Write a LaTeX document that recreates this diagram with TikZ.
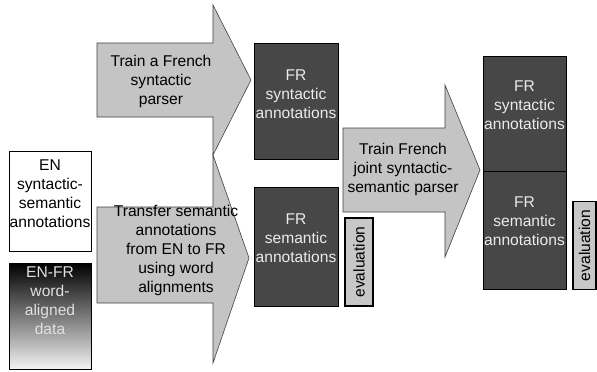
\documentclass[tikz,border=0pt]{standalone}
\usepackage{fontspec}
\setmainfont{Liberation Sans}
\usetikzlibrary{positioning}

\pgfdeclareverticalshading{enfrfade}{100bp}{color(0bp)=(black!5); color(25bp)=(black!5);
  color(75bp)=(black); color(100bp)=(black)}

\begin{document}
\begin{tikzpicture}[x=1pt,y=-1pt,
    arr/.style={draw=black!75,line width=0.6pt,fill=black!23},
    box/.style={draw=black,line width=0.7pt,inner sep=0pt},
    dark/.style={box,fill=black!72},
    eval/.style={draw=black,line width=1.6pt,fill=black!22,inner sep=0pt,
                 rotate=90,minimum width=88pt,font=\fontsize{15.6}{19}\selectfont},
    lbl/.style={align=center,inner sep=0pt,font=\fontsize{15.6}{19}\selectfont},
    ltxt/.style={lbl,text=black!8}]
      \useasboundingbox (0,0) rectangle (597,372);

      % block arrows
      \draw[arr] (97,43) -- (213,43) -- (213,5) -- (251,80) -- (213,155)
                 -- (213,117) -- (97,117) -- cycle;
      \draw[arr] (97,207) -- (213,207) -- (213,155) -- (249,258) -- (213,363)
                 -- (213,303) -- (97,303) -- cycle;
      \draw[arr] (343,128) -- (445,128) -- (445,85) -- (480,170) -- (445,257)
                 -- (445,212) -- (343,212) -- cycle;

      \node[lbl] (trainsyn) at (161,81) {Train a French\\syntactic\\parser};
      \node[lbl] (transfer) at (176,250) {Transfer semantic\\annotations\\from EN to FR\\using word\\alignments};
      \node[lbl] (trainjoint) at (403,169) {Train French\\joint syntactic-\\semantic parser};

      % input data
      \node[box,fill=white,minimum width=82pt,minimum height=100pt] (en) at (50,201) {};
      \node[box,shading=enfrfade,minimum width=82pt,minimum height=106pt] (enfr) at (50,316) {};
      \node[lbl] (entxt) at ([yshift=7pt]en) {EN\\syntactic-\\semantic\\annotations};
      \node[lbl,text=black!12] (enfrtxt) at ([yshift=15pt]enfr) {EN-FR\\word-\\aligned\\data};

      % FR annotations
      \node[dark,minimum width=84pt,minimum height=116pt] (frsyn) at (296,101) {};
      \node[dark,minimum width=84pt,minimum height=119pt] (frsem) at (296,246.5) {};
      \node[ltxt] (frsyntxt) at ([yshift=7pt]frsyn) {FR\\syntactic\\annotations};
      \node[ltxt] (frsemtxt) at ([yshift=8.5pt]frsem) {FR\\semantic\\annotations};
      \node[eval,minimum height=28pt] (evalone) at (359,262) {evaluation};

      % joint output
      \node[dark,minimum width=83pt,minimum height=115pt] (jsyn) at (524.5,113.5) {};
      \node[dark,minimum width=83pt,minimum height=118pt] (jsem) at (524.5,230) {};
      \node[ltxt] (jsyntxt) at ([yshift=8.5pt]jsyn) {FR\\syntactic\\annotations};
      \node[ltxt] (jsemtxt) at ([yshift=9pt]jsem) {FR\\semantic\\annotations};
      \node[eval,minimum height=23pt] (evaltwo) at (584.5,245.5) {evaluation};
\end{tikzpicture}
\end{document}
